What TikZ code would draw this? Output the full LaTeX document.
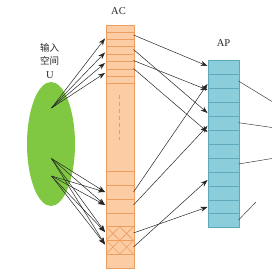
\documentclass[tikz,border=0pt]{standalone}
\usepackage{fontspec}
\setmainfont{Liberation Serif}
\newfontfamily\cjk{Noto Sans CJK SC}
\usetikzlibrary{arrows.meta,shapes.geometric}
\definecolor{ugreen}{RGB}{128,200,66}
\definecolor{acfill}{RGB}{252,204,164}
\definecolor{acline}{RGB}{236,158,96}
\definecolor{apfill}{RGB}{140,205,220}
\definecolor{apline}{RGB}{96,168,188}
\definecolor{txt}{RGB}{40,40,40}
\begin{document}
\begin{tikzpicture}[x=1pt,y=-1pt,
  conn/.style={draw=black!85, line width=0.5pt, -{Stealth[length=7pt,width=5pt]}},
  plainline/.style={draw=black!75, line width=0.5pt},
  acsep/.style={draw=acline, line width=0.6pt},
  apsep/.style={draw=apline, line width=0.6pt},
  lbl/.style={text=txt, font=\fontsize{10.5}{12}\selectfont, inner sep=0pt}]
\useasboundingbox (0,0) rectangle (272,272);

% input space U
\node[ellipse, fill=ugreen, minimum width=48pt, minimum height=124pt, inner sep=0pt] (U) at (51,144) {};
\node[lbl, font=\cjk\fontsize{9.5}{11}\selectfont] (l1) at (49.5,48.3) {输入};
\node[lbl, font=\cjk\fontsize{9.5}{11}\selectfont] (l2) at (49.5,61) {空间};
\node[lbl] (l3) at (50,75.5) {U};

% AC column
\node[draw=acline, fill=acfill, line width=0.6pt, minimum width=27.5pt, minimum height=242.5pt, inner sep=0pt, anchor=north west] (AC) at (106,25) {};
\node[lbl] (aclbl) at (118.5,11) {AC};
\foreach \y in {32,39.3,46.7,54.1,61.5,68.9,76.2,83.5,171.7,185.5,199.3,213,226.7,240.3,254}
  \draw[acsep] (106,\y) -- (133.5,\y);
\draw[acsep, dash pattern=on 4pt off 3pt] (119.5,95) -- (119.5,140);
\foreach \t/\b in {226.7/240.3,240.3/254}{
  \draw[acsep] (106,\t) -- (119.75,\b);
  \draw[acsep] (119.75,\t) -- (106,\b);
  \draw[acsep] (119.75,\t) -- (133.5,\b);
  \draw[acsep] (133.5,\t) -- (119.75,\b);
}

% AP column
\node[draw=apline, fill=apfill, line width=0.6pt, minimum width=30.5pt, minimum height=167.3pt, inner sep=0pt, anchor=north west] (AP) at (208,60) {};
\node[lbl] (aplbl) at (223.5,43.5) {AP};
\foreach \y in {74,88,102,116,130,144,158,172,186,200,213.5}
  \draw[apsep] (208,\y) -- (238.5,\y);

% connector end points
\coordinate (s1) at (51.5,108);
\coordinate (s2) at (51.5,158.5);
\coordinate (s3) at (51.5,176);
\coordinate (t1) at (105,38.5);
\coordinate (t2) at (105,52.5);
\coordinate (t3) at (105,63);
\coordinate (t4) at (105,73);
\coordinate (b1) at (105,192);
\coordinate (b2) at (105,205);
\coordinate (b3) at (105,232);
\coordinate (b4) at (105,244.5);

\coordinate (a1) at (133.5,35);
\coordinate (a2) at (133.5,49.5);
\coordinate (a3) at (133.5,60.5);
\coordinate (a4) at (133.5,68.5);
\coordinate (a5) at (133.5,192);
\coordinate (a6) at (133.5,205);
\coordinate (a7) at (133.5,233);
\coordinate (a8) at (133.5,247);
\coordinate (p1) at (207.5,66);
\coordinate (p2) at (207.5,90);
\coordinate (p3) at (207.5,113);
\coordinate (p4) at (207.5,132);
\coordinate (p5) at (207.5,84);
\coordinate (p6) at (207.5,126);
\coordinate (p7) at (207.5,180);
\coordinate (p8) at (207.5,207);

\coordinate (o1) at (238.5,81);
\coordinate (o2) at (238.5,122.7);
\coordinate (o3) at (238.5,164);
\coordinate (o4) at (238.5,220);
\coordinate (e1) at (272,101.5);
\coordinate (e2) at (272,127.5);
\coordinate (e3) at (272,158.5);
\coordinate (e4) at (256,202);

% U -> AC
\foreach \t in {t1,t2,t3,t4} \draw[conn] (s1) -- (\t);
\foreach \s in {s2,s3}
  \foreach \t in {b1,b2,b3,b4} \draw[conn] (\s) -- (\t);

% AC -> AP
\draw[conn] (a1) -- (p1);
\draw[conn] (a2) -- (p3);
\draw[conn] (a3) -- (p2);
\draw[conn] (a4) -- (p4);
\draw[conn] (a5) -- (p5);
\draw[conn] (a6) -- (p6);
\draw[conn] (a7) -- (p8);
\draw[conn] (a8) -- (p7);

% AP outputs
\draw[plainline] (o1) -- (e1);
\draw[plainline] (o2) -- (e2);
\draw[plainline] (o3) -- (e3);
\draw[plainline] (o4) -- (e4);
\end{tikzpicture}
\end{document}
